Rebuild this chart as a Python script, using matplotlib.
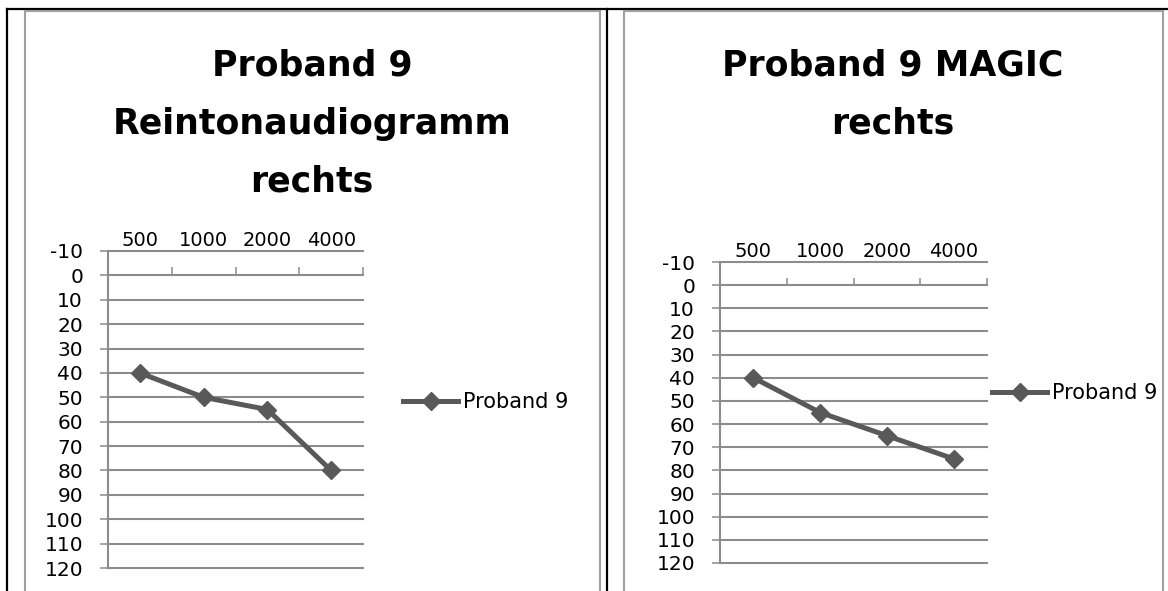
import matplotlib
matplotlib.use('Agg')
import matplotlib.pyplot as plt
from matplotlib.lines import Line2D

plt.rcParams['font.family'] = ['DejaVu Sans']

W, H = 1168, 591

freqs = ['500', '1000', '2000', '4000']
levels = list(range(-10, 121, 10))
series_name = 'Proband 9'
left_values = [40, 50, 55, 80]
right_values = [40, 55, 65, 75]
left_title = ['Proband 9', 'Reintonaudiogramm', 'rechts']
right_title = ['Proband 9 MAGIC', 'rechts']

LINE_COL = '#595959'
GRID_COL = '#8c8c8c'
FRAME_COL = '#a0a0a0'


def fx(x):
    return x / W


def fy(y):
    return 1 - y / H


def add_line(fig, xs, ys, color, lw):
    fig.add_artist(Line2D([fx(v) for v in xs], [fy(v) for v in ys],
                          transform=fig.transFigure, color=color, lw=lw))


def draw_panel(fig, box, values, title_lines, title_cx, legend_xy):
    x0, y0, x1, y1 = box
    ax = fig.add_axes([fx(x0), fy(y1), (x1 - x0) / W, (y1 - y0) / H])
    pos = [i + 0.5 for i in range(len(freqs))]
    ax.plot(pos, values, color=LINE_COL, lw=3.6, marker='D', ms=9,
            mec=LINE_COL, label=series_name, zorder=5)
    ax.set_xlim(0, len(freqs))
    ax.set_ylim(levels[-1], levels[0])
    ax.set_yticks(levels)
    ax.set_yticklabels([str(v) for v in levels])
    ax.yaxis.grid(True, color=GRID_COL, lw=1.5)
    for gl in ax.get_ygridlines():
        gl.set_clip_on(False)
    for s in ['top', 'right', 'bottom']:
        ax.spines[s].set_visible(False)
    ax.spines['left'].set_color(GRID_COL)
    ax.spines['left'].set_linewidth(1.5)
    ax.tick_params(axis='y', direction='out', length=6, width=1.1,
                   color=GRID_COL, pad=12, labelsize=14.5)
    ax.xaxis.tick_top()
    ax.set_xticks(pos)
    ax.set_xticklabels(freqs)
    ax.tick_params(axis='x', length=0, pad=1, labelsize=14)
    # category boundary ticks sitting on the zero line
    ax.vlines(range(1, len(freqs) + 1), 0, -3.3, color=GRID_COL, lw=1.1,
              clip_on=False)
    ax.legend(loc='center left', bbox_to_anchor=(fx(legend_xy[0]), fy(legend_xy[1])),
              bbox_transform=fig.transFigure, frameon=False, borderpad=0,
              borderaxespad=0, handlelength=2.64, handletextpad=0.24,
              fontsize=15)
    for i, line in enumerate(title_lines):
        fig.text(fx(title_cx), fy(75 + 58.5 * i), line, ha='center',
                 va='baseline', fontsize=25, fontweight='bold')
    return ax


fig = plt.figure(figsize=(W / 100, H / 100), dpi=100)

# table borders and chart frames
add_line(fig, [7, W], [9, 9], 'black', 1.6)
add_line(fig, [7, 7], [9, H], 'black', 1.6)
add_line(fig, [607, 607], [9, H], 'black', 1.6)
add_line(fig, [25, 600], [10.5, 10.5], FRAME_COL, 1.5)
add_line(fig, [25, 25], [10.5, H], FRAME_COL, 1.5)
add_line(fig, [600, 600], [10.5, H], FRAME_COL, 1.5)
add_line(fig, [624, 1163], [10.5, 10.5], FRAME_COL, 1.5)
add_line(fig, [624, 624], [10.5, H], FRAME_COL, 1.5)
add_line(fig, [1163, 1163], [10.5, H], FRAME_COL, 1.5)

draw_panel(fig, (108, 251, 363, 568), left_values, left_title, 312, (403, 402))
draw_panel(fig, (720, 262, 987, 563), right_values, right_title, 893, (992, 393))

fig.savefig('out.png', dpi=100)
